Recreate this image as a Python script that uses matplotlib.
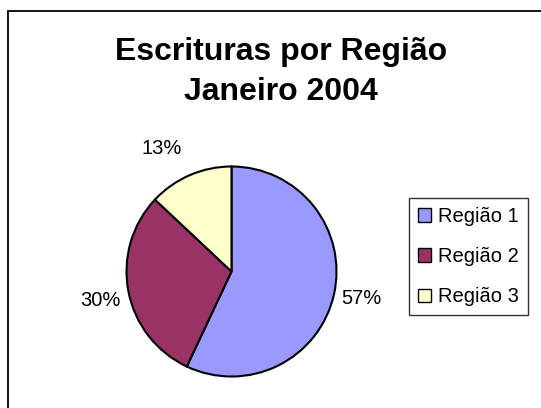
import numpy as np
import matplotlib
matplotlib.use("Agg")
import matplotlib.pyplot as plt
from matplotlib.patches import Rectangle

plt.rcParams['font.family'] = ['Liberation Sans', 'DejaVu Sans']

# data
regions = ['Região 1', 'Região 2', 'Região 3']
shares = [57, 30, 13]
colors = ['#9999FF', '#993366', '#FFFFCC']
# label placement (distance in radii, angle nudge in degrees)
label_dist = [1.26, 1.28, 1.35]
label_nudge = [1.0, 1.8, 6.0]

W, H = 541, 408
fig = plt.figure(figsize=(W / 100, H / 100), dpi=100)

# chart frame (runs off the right/bottom edges like the reference)
fig.patches.append(Rectangle((8 / W, -0.1), 2, (H - 11) / H + 0.1,
                             transform=fig.transFigure, fill=False,
                             edgecolor='black', linewidth=1.3))

fig.text(281 / W, 1 - 72 / H, 'Escrituras por Região\nJaneiro 2004',
         ha='center', va='center', fontsize=23, fontweight='bold',
         linespacing=1.42)

# pie axes: centre (231.5, 271.5) px, radius 105 px
cx, cy, r = 231.5, 271.5, 105
ax = fig.add_axes([(cx - r) / W, (H - cy - r) / H, 2 * r / W, 2 * r / H])
wedges, _ = ax.pie(shares, colors=colors, startangle=90, counterclock=False,
                   radius=1, wedgeprops=dict(edgecolor='black', linewidth=1.5))
ax.set_xlim(-1, 1)
ax.set_ylim(-1, 1)
ax.set_aspect('equal')
ax.axis('off')

for w, v, d, n in zip(wedges, shares, label_dist, label_nudge):
    ang = np.deg2rad((w.theta1 + w.theta2) / 2 + n)
    ax.text(d * np.cos(ang), d * np.sin(ang), '%d%%' % v,
            ha='center', va='center', fontsize=14.5, clip_on=False)

leg = fig.legend(wedges, regions, loc='upper left',
                 bbox_to_anchor=(409 / W, 1 - 198 / H),
                 fontsize=14.5, frameon=True, fancybox=False,
                 handlelength=0.65, handleheight=0.65, handletextpad=0.35,
                 labelspacing=1.05, borderpad=0.45, borderaxespad=0)
leg.get_frame().set_edgecolor('black')
leg.get_frame().set_linewidth(1.0)
for h in leg.legend_handles:
    h.set_linewidth(1.0)

fig.savefig('out.png', dpi=100)
